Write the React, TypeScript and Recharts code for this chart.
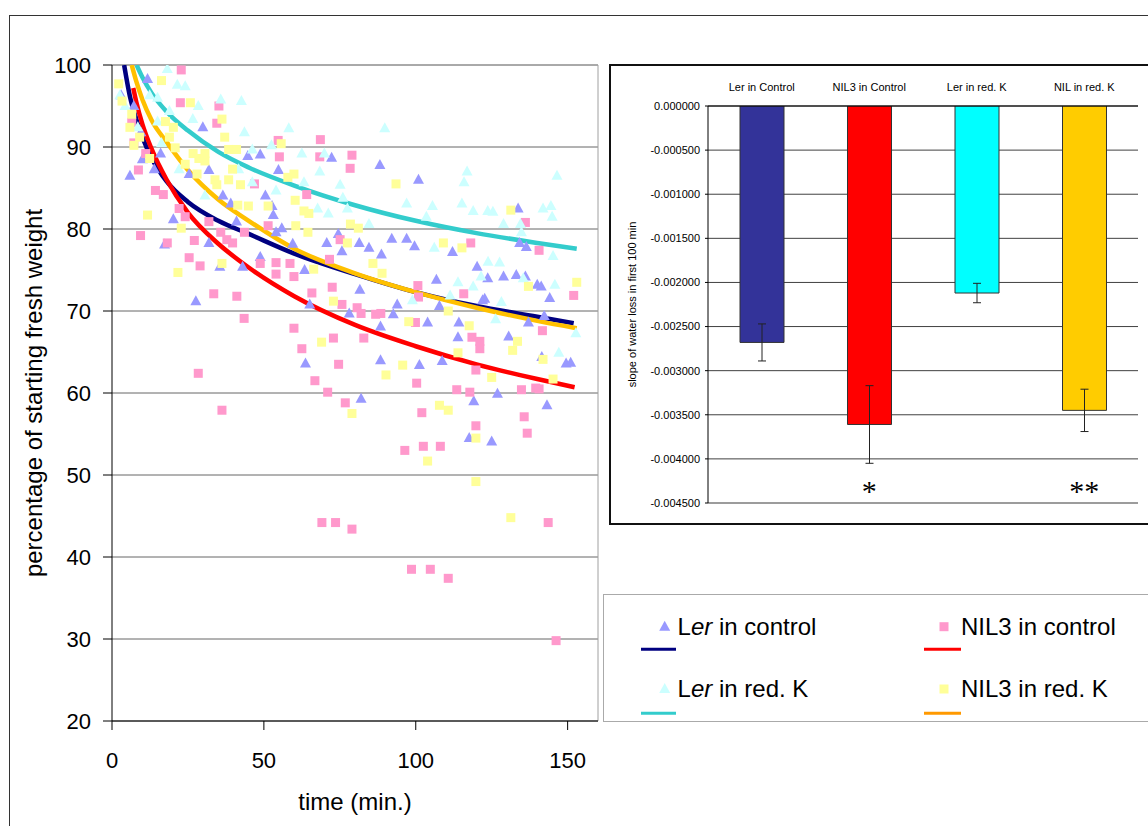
import React from 'react';
import {
  ComposedChart, Scatter, Line, XAxis, YAxis, CartesianGrid, ReferenceLine,
  BarChart, Bar, Cell, ErrorBar, ReferenceDot,
} from 'recharts';

const FONT = "'Liberation Sans', Arial, Helvetica, sans-serif";

// ---------- main scatter chart ----------
const xTicks = [0, 50, 100, 150];
const yTicks = [20, 30, 40, 50, 60, 70, 80, 90, 100];

const lerControl: [number, number][] = [
  [3.0, 96.3], [5.9, 86.5], [7.2, 95.0], [10.0, 88.5], [11.7, 98.3], [9.5, 91.8], [13.9, 87.3], [16.0, 89.2],
  [17.3, 78.1], [20.2, 81.2], [25.4, 86.7], [27.6, 71.2], [29.9, 92.4], [31.9, 87.2], [31.9, 78.3], [35.5, 75.4],
  [36.5, 84.1], [39.1, 83.1], [41.0, 80.9], [43.0, 75.4], [44.7, 88.9], [48.8, 89.1], [48.8, 76.6], [50.5, 84.1],
  [52.7, 82.8], [54.0, 79.6], [53.1, 81.7], [54.8, 87.2], [55.9, 80.1], [59.5, 78.2], [63.4, 75.0], [63.7, 63.6],
  [65.1, 70.8], [70.7, 78.3], [72.3, 88.7], [74.5, 79.4], [75.7, 77.3], [78.1, 69.7], [82.0, 59.3], [81.4, 78.3],
  [81.6, 72.6], [84.6, 77.7], [88.2, 87.8], [88.4, 64.0], [88.4, 68.1], [88.7, 76.9], [92.1, 78.8], [92.6, 69.6],
  [93.9, 70.8], [97.0, 78.8], [99.6, 77.9], [100.9, 86.0], [101.2, 63.4], [103.9, 68.6], [106.8, 73.8], [107.8, 70.6],
  [108.7, 63.9], [112.1, 77.2], [113.9, 66.8], [114.2, 68.6], [117.6, 54.5], [119.1, 59.0], [120.2, 75.4], [122.0, 71.3],
  [122.7, 71.5], [123.7, 74.0], [125.0, 54.1], [126.9, 59.9], [128.9, 74.2], [130.6, 66.9], [133.1, 74.4], [133.7, 82.5],
  [134.2, 78.3], [136.1, 74.2], [136.4, 77.8], [137.1, 68.6], [140.0, 73.2], [141.3, 73.0], [141.5, 64.4], [142.3, 69.4],
  [143.2, 58.5], [144.1, 71.6], [149.5, 63.6], [151.0, 63.7],
];

const nil3Control: [number, number][] = [
  [6.5, 93.0], [7.2, 90.5], [8.7, 87.2], [9.4, 79.2], [11.1, 89.2], [14.3, 84.7], [16.9, 84.2], [18.2, 78.3],
  [22.1, 82.5], [22.5, 95.4], [22.8, 99.4], [24.1, 81.5], [25.4, 76.5], [27.1, 78.6], [28.4, 62.4], [29.0, 75.5],
  [31.9, 80.9], [33.5, 72.1], [34.5, 92.9], [35.2, 95.0], [35.8, 79.6], [36.2, 57.9], [37.8, 78.7], [39.7, 78.3],
  [41.1, 71.8], [43.5, 69.1], [43.6, 79.6], [46.9, 85.5], [48.8, 75.8], [51.4, 80.4], [54.0, 75.9], [54.0, 74.5],
  [54.7, 90.8], [55.1, 88.8], [58.6, 75.8], [59.9, 74.2], [59.9, 67.9], [62.5, 65.4], [64.1, 84.2], [65.8, 72.2],
  [66.8, 61.5], [68.4, 88.8], [68.6, 90.9], [69.1, 44.2], [71.0, 60.1], [71.6, 76.3], [72.5, 72.9], [72.9, 66.7],
  [73.6, 44.2], [74.6, 63.5], [75.1, 78.7], [75.7, 70.8], [76.8, 58.8], [78.4, 87.4], [79.0, 89.0], [79.0, 43.4],
  [80.7, 70.4], [82.0, 69.7], [82.9, 66.7], [86.8, 69.6], [88.5, 69.7], [96.4, 53.0], [98.6, 38.5], [99.9, 68.6],
  [100.3, 61.2], [100.7, 73.1], [100.9, 71.7], [102.0, 57.6], [102.5, 53.5], [104.8, 38.5], [108.1, 53.5], [110.7, 37.4],
  [113.5, 60.4], [115.8, 72.1], [117.8, 60.1], [118.1, 78.3], [118.5, 66.8], [119.8, 62.8], [119.8, 56.0], [121.1, 66.3],
  [121.1, 65.4], [134.8, 60.4], [135.7, 57.1], [136.1, 80.8], [136.7, 55.1], [139.5, 60.6], [140.6, 60.5], [140.6, 77.4],
  [141.7, 67.6], [143.6, 44.2], [146.2, 29.8], [152.0, 71.9],
];

const lerRedK: [number, number][] = [
  [2.6, 96.3], [4.3, 95.0], [8.5, 92.4], [12.4, 96.3], [15.0, 96.0], [15.0, 93.1], [16.3, 90.5], [18.2, 99.5],
  [18.9, 94.4], [21.5, 97.6], [22.1, 87.3], [24.1, 97.4], [26.6, 93.4], [28.4, 95.0], [30.6, 84.1], [35.8, 95.8],
  [41.7, 87.3], [42.6, 95.6], [43.6, 91.8], [46.2, 89.7], [46.2, 85.7], [52.5, 90.2], [54.0, 84.7], [58.2, 92.3],
  [62.5, 89.2], [63.2, 85.7], [67.7, 82.5], [68.4, 87.0], [69.9, 89.2], [71.2, 81.9], [75.1, 85.4], [76.0, 83.8],
  [77.5, 82.5], [84.6, 80.6], [89.8, 92.3], [97.0, 83.1], [98.9, 71.3], [103.5, 81.5], [105.5, 82.8], [106.1, 77.7],
  [111.3, 71.9], [113.9, 73.5], [115.2, 83.1], [115.9, 85.7], [116.9, 87.0], [118.9, 82.2], [118.9, 73.0], [121.5, 74.2],
  [123.7, 82.2], [123.8, 76.0], [125.4, 82.1], [126.3, 69.0], [127.6, 75.9], [128.2, 71.1], [128.9, 80.6], [134.5, 80.6],
  [134.8, 79.6], [135.4, 74.0], [141.9, 82.5], [144.5, 82.8], [144.9, 81.5], [145.2, 76.7], [145.8, 73.2], [146.5, 86.5],
  [147.1, 64.9], [152.7, 67.3],
];

const nil3RedK: [number, number][] = [
  [2.2, 97.7], [3.3, 95.6], [5.9, 92.4], [6.5, 94.0], [7.2, 90.2], [9.1, 91.2], [11.7, 81.7], [12.4, 88.6],
  [16.3, 98.1], [17.6, 93.1], [18.9, 91.2], [20.2, 92.4], [20.8, 89.9], [21.7, 74.7], [22.8, 80.1], [24.1, 87.9],
  [25.8, 95.4], [26.7, 89.2], [28.0, 86.7], [28.6, 88.6], [30.6, 88.3], [30.6, 89.2], [33.9, 86.0], [34.5, 85.4],
  [36.2, 93.4], [36.2, 75.8], [37.1, 91.2], [38.4, 89.7], [38.4, 86.0], [39.7, 87.3], [41.0, 89.7], [41.4, 82.9],
  [42.3, 85.4], [44.9, 82.8], [51.4, 82.8], [55.7, 90.4], [57.9, 86.3], [59.9, 86.7], [60.3, 83.5], [60.5, 80.4],
  [63.2, 82.2], [64.5, 79.6], [64.8, 81.9], [66.4, 75.1], [69.0, 66.2], [72.9, 71.2], [77.5, 78.3], [78.5, 80.6],
  [79.0, 57.5], [81.1, 80.1], [85.9, 75.8], [88.9, 74.6], [90.2, 62.2], [93.5, 85.5], [95.7, 63.4], [97.7, 68.7],
  [103.9, 51.7], [107.8, 58.5], [109.1, 78.3], [110.7, 70.0], [110.7, 57.9], [113.9, 64.9], [115.2, 77.7], [117.6, 68.2],
  [119.8, 54.5], [119.8, 49.2], [125.0, 61.9], [131.3, 82.3], [131.9, 65.2], [131.3, 44.8], [133.5, 66.3], [137.1, 73.0],
  [141.9, 64.1], [145.2, 61.7], [153.0, 73.5],
];

// trend curves
const lerControlTrend: [number, number][] = [
  [4, 100], [6, 96.0], [8, 93.4], [10, 91.2], [13, 88.7], [18, 85.8], [25, 83.3], [35, 81.0],
  [45, 79.4], [60, 77.0], [80, 74.5], [100, 72.3], [120, 70.6], [140, 69.3], [152, 68.5],
];
const nil3ControlTrend: [number, number][] = [
  [7, 97.2], [8, 95.5], [10, 92.8], [13, 89.8], [18, 86.0], [25, 82.0], [35, 78.2], [45, 75.3],
  [60, 71.8], [80, 68.3], [100, 65.7], [120, 63.5], [140, 61.7], [152.3, 60.7],
];
const lerRedKTrend: [number, number][] = [
  [8.1, 100], [10, 98.5], [13, 96.6], [18, 94.3], [25, 92.0], [35, 89.4], [45, 87.5], [60, 85.3],
  [80, 82.9], [100, 81.0], [120, 79.5], [140, 78.3], [153, 77.6],
];
const nil3RedKTrend: [number, number][] = [
  [6.5, 100], [8, 98.0], [10, 95.8], [13, 93.3], [18, 90.6], [25, 87.2], [35, 83.6], [45, 81.0],
  [60, 77.6], [80, 74.6], [100, 72.3], [120, 70.4], [140, 68.8], [153, 67.9],
];

// ---------- inset bar chart ----------
const barCategories = ['Ler in Control', 'NIL3 in Control', 'Ler in red. K', 'NIL in red. K'];
const barSlopes = [-0.00268, -0.00361, -0.00212, -0.00345];
const barErrors = [0.00021, 0.00044, 0.00011, 0.00024];
const barColors = ['#333399', '#FF0000', '#00FFFF', '#FFCC00'];
const barStars = ['', '*', '', '**'];
const barTicks = [0, -0.0005, -0.001, -0.0015, -0.002, -0.0025, -0.003, -0.0035, -0.004, -0.0045];

// ---------- legend ----------
const legendItems = [
  { pre: 'L', ital: 'er', post: ' in control', marker: 'tri', markerColor: '#9999FF', lineColor: '#000080' },
  { pre: 'NIL3 in control', ital: '', post: '', marker: 'sq', markerColor: '#FF99CC', lineColor: '#FF0000' },
  { pre: 'L', ital: 'er', post: ' in red. K', marker: 'tri', markerColor: '#CCFFFF', lineColor: '#33CCCC' },
  { pre: 'NIL3 in red. K', ital: '', post: '', marker: 'sq', markerColor: '#FFFF99', lineColor: '#FF9900' },
];

const toPts = (a: [number, number][]) => a.map(([x, y]) => ({ x, y }));

const triShape = (color: string) => (props: any) => {
  const { cx, cy } = props;
  if (cx == null || cy == null) return <g />;
  return <polygon points={`${cx},${cy - 6} ${cx + 5.5},${cy + 4} ${cx - 5.5},${cy + 4}`} fill={color} />;
};
const sqShape = (color: string) => (props: any) => {
  const { cx, cy } = props;
  if (cx == null || cy == null) return <g />;
  return <rect x={cx - 4.5} y={cy - 4.5} width={9} height={9} fill={color} />;
};

function MainChart() {
  return (
    <ComposedChart width={620} height={826} margin={{ top: 65, right: 22, bottom: 10, left: 12 }}>
      <CartesianGrid vertical={false} stroke="#666" strokeWidth={1} />
      <XAxis
        type="number" dataKey="x" domain={[0, 160]} ticks={xTicks} interval={0} allowDataOverflow
        height={95} tickSize={9} tickMargin={22} stroke="#000"
        tick={{ fontSize: 22, fill: '#000', fontFamily: FONT }}
        label={{ value: 'time (min.)', position: 'insideBottom', offset: 6, fontSize: 24, fill: '#000', fontFamily: FONT }}
      />
      <YAxis
        type="number" dataKey="y" domain={[20, 100]} ticks={yTicks} interval={0} allowDataOverflow
        width={100} tickSize={9} tickMargin={12} stroke="#000"
        tick={{ fontSize: 22, fill: '#000', fontFamily: FONT }}
        label={{
          value: 'percentage of starting fresh weight', angle: -90, position: 'insideLeft', offset: 21,
          fontSize: 24, fill: '#000', fontFamily: FONT, style: { textAnchor: 'middle' },
        }}
      />
      <ReferenceLine y={100} stroke="#a0a0a0" />
      <ReferenceLine x={160} stroke="#a0a0a0" />
      <Scatter data={toPts(lerControl)} shape={triShape('#9999FF')} isAnimationActive={false} />
      <Scatter data={toPts(nil3Control)} shape={sqShape('#FF99CC')} isAnimationActive={false} />
      <Scatter data={toPts(lerRedK)} shape={triShape('#CCFFFF')} isAnimationActive={false} />
      <Scatter data={toPts(nil3RedK)} shape={sqShape('#FFFF99')} isAnimationActive={false} />
      <Line data={toPts(lerControlTrend)} dataKey="y" type="monotone" stroke="#000080" strokeWidth={4.5} dot={false} isAnimationActive={false} />
      <Line data={toPts(nil3ControlTrend)} dataKey="y" type="monotone" stroke="#FF0000" strokeWidth={4.5} dot={false} isAnimationActive={false} />
      <Line data={toPts(lerRedKTrend)} dataKey="y" type="monotone" stroke="#33CCCC" strokeWidth={4.5} dot={false} isAnimationActive={false} />
      <Line data={toPts(nil3RedKTrend)} dataKey="y" type="monotone" stroke="#FFC000" strokeWidth={4.5} dot={false} isAnimationActive={false} />
    </ComposedChart>
  );
}

function InsetChart() {
  const data = barCategories.map((name, i) => ({ name, slope: barSlopes[i], err: barErrors[i] }));
  return (
    <BarChart width={538} height={460} data={data} margin={{ top: 0, right: 10, bottom: 20, left: 0 }} barSize={44}>
      <CartesianGrid vertical={false} stroke="#404040" />
      <XAxis
        dataKey="name" orientation="top" height={43} tickLine={false} tickSize={0} tickMargin={15} interval={0}
        axisLine={{ stroke: '#000' }} tick={{ fontSize: 11, fill: '#000', fontFamily: FONT }}
      />
      <YAxis
        type="number" domain={[-0.0045, 0]} ticks={barTicks} interval={0} allowDataOverflow width={98}
        tickSize={3} tickMargin={5} tickFormatter={(v: number) => v.toFixed(6)}
        axisLine={{ stroke: '#000' }} tickLine={{ stroke: '#000' }}
        tick={{ fontSize: 11, fill: '#000', fontFamily: FONT }}
        label={{
          value: 'slope of water loss in first 100 min', angle: -90, position: 'insideLeft', offset: 22,
          fontSize: 11, fill: '#000', fontFamily: FONT, style: { textAnchor: 'middle' },
        }}
      />
      <YAxis yAxisId="right" orientation="right" width={0} domain={[-0.0045, 0]} tick={false} tickLine={false} axisLine={{ stroke: '#999' }} />
      <ReferenceLine y={-0.0045} stroke="#999" />
      <Bar dataKey="slope" stroke="#333" strokeWidth={1} isAnimationActive={false}>
        {barColors.map((c, i) => <Cell key={i} fill={c} />)}
        <ErrorBar dataKey="err" width={4} stroke="#222" strokeWidth={1} direction="y" />
      </Bar>
      {barCategories.map((c, i) => barStars[i] ? (
        <ReferenceDot
          key={c} x={c} y={-0.00436} r={0.01} fill="none" stroke="none"
          label={{ value: barStars[i], position: 'center', fontSize: 30, fill: '#000', fontFamily: "'Liberation Serif', 'Times New Roman', serif" }}
        />
      ) : null)}
    </BarChart>
  );
}

function LegendBox() {
  const cols = [{ mx: 60.7, tx: 73.6, l1: 37, l2: 72 }, { mx: 340, tx: 357, l1: 320, l2: 357 }];
  const rows = [{ my: 31.7, ty: 40, ly: 54.3 }, { my: 94, ty: 102, ly: 118.3 }];
  return (
    <svg width={544} height={126} style={{ position: 'absolute', left: 0, top: 0 }}>
      {legendItems.map((it, i) => {
        const c = cols[i % 2];
        const r = rows[Math.floor(i / 2)];
        return (
          <g key={i}>
            {it.marker === 'tri'
              ? <polygon points={`${c.mx},${r.my - 6} ${c.mx + 5.5},${r.my + 4} ${c.mx - 5.5},${r.my + 4}`} fill={it.markerColor} />
              : <rect x={c.mx - 4.5} y={r.my - 4.5} width={9} height={9} fill={it.markerColor} />}
            <text x={c.tx} y={r.ty} fontSize={24} fontFamily={FONT} fill="#000">
              <tspan>{it.pre}</tspan>
              {it.ital ? <tspan fontStyle="italic">{it.ital}</tspan> : null}
              {it.post ? <tspan>{it.post}</tspan> : null}
            </text>
            <line x1={c.l1} x2={c.l2} y1={r.ly} y2={r.ly} stroke={it.lineColor} strokeWidth={3} />
          </g>
        );
      })}
    </svg>
  );
}

export default function App() {
  return (
    <div style={{ position: 'absolute', left: 0, top: 0, width: 1148, height: 826, overflow: 'hidden', background: '#fff', fontFamily: FONT }}>
      <div style={{ position: 'absolute', left: 9, top: 15, width: 1300, height: 1000, border: '1px solid #333' }} />
      <div style={{ position: 'absolute', left: 0, top: 0 }}>
        <MainChart />
      </div>
      <div style={{ position: 'absolute', left: 609, top: 64, width: 700, height: 457, border: '2px solid #111' }} />
      <div style={{ position: 'absolute', left: 610, top: 63 }}>
        <InsetChart />
      </div>
      <div style={{ position: 'absolute', left: 603, top: 594, width: 700, height: 126, border: '1px solid #aaa' }}>
        <LegendBox />
      </div>
    </div>
  );
}
